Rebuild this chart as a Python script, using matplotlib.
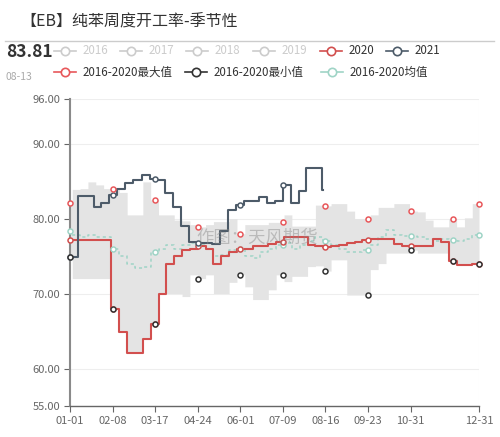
import numpy as np
import pandas as pd
import matplotlib
matplotlib.use("Agg")
import matplotlib.pyplot as plt

plt.rcParams['font.family'] = ['Noto Sans CJK SC', 'DejaVu Sans']

# ---------------- data ----------------
title = '【EB】纯苯周度开工率-季节性'
last_value = '83.81'
last_date = '08-13'

dates_2020 = [d.strftime('%m-%d') for d in pd.date_range('2020-01-03', periods=52, freq='7D')]
dates_2021 = [d.strftime('%m-%d') for d in pd.date_range('2021-01-01', '2021-08-13', freq='7D')]
dates_stat = ['01-01'] + dates_2020

vals_2020 = [77.1, 77.1, 77.1, 77.1, 77.1, 68.0, 64.9, 62.1, 62.1, 63.9,
             66.0, 70.0, 74.0, 75.0, 75.8, 76.0, 76.3, 75.9, 74.0, 75.0,
             75.5, 75.9, 76.0, 76.3, 76.3, 76.6, 76.9, 77.5, 77.5, 77.5,
             76.5, 76.4, 76.2, 76.3, 76.5, 76.7, 76.9, 77.2, 77.3, 77.3,
             77.3, 76.6, 76.4, 76.4, 76.4, 76.4, 77.3, 76.9, 74.4, 73.8,
             73.8, 74.0]

vals_2021 = [74.85, 83.0, 83.0, 81.5, 82.1, 83.2, 84.0, 84.7, 85.2, 85.8,
             85.3, 85.1, 83.4, 81.6, 79.0, 76.9, 76.7, 76.7, 76.6, 78.3,
             81.2, 81.8, 82.3, 82.3, 82.9, 82.05, 82.3, 84.5, 82.1, 83.7,
             86.8, 86.8, 83.81]

vals_max = [82.05,
            83.9, 84.0, 84.9, 84.5, 84.0, 84.0, 83.5, 80.5, 80.5, 84.9,
            82.5, 80.5, 80.5, 79.8, 79.7, 79.2, 78.9, 79.2, 79.6, 79.6,
            80.0, 78.0, 79.2, 79.2, 79.2, 79.5, 79.5, 80.5, 79.0, 79.0,
            79.0, 81.8, 81.7, 82.0, 82.0, 81.0, 80.0, 80.0, 80.5, 81.5,
            81.5, 82.0, 82.0, 81.0, 80.9, 79.8, 78.9, 78.9, 80.0, 78.9,
            80.1, 82.0]

vals_min = [74.85,
            72.0, 72.0, 72.0, 72.0, 72.0, 68.0, 64.9, 62.1, 62.1, 63.9,
            66.0, 70.0, 70.0, 70.0, 69.6, 72.5, 72.0, 72.5, 70.0, 70.0,
            71.5, 72.5, 70.9, 69.2, 69.2, 70.5, 72.5, 71.6, 72.3, 72.3,
            73.6, 73.7, 73.0, 74.5, 74.5, 69.8, 69.8, 69.8, 73.2, 74.0,
            75.4, 75.4, 75.4, 75.8, 75.4, 75.4, 75.4, 75.4, 74.3, 73.8,
            73.8, 73.9]

vals_mean = [78.3,
             77.8, 77.5, 77.8, 77.5, 77.6, 76.0, 75.0, 74.0, 73.4, 73.6,
             75.5, 76.0, 76.5, 76.0, 76.5, 76.8, 76.5, 76.0, 75.0, 75.2,
             75.8, 76.0, 75.0, 74.8, 75.5, 76.0, 76.5, 76.8, 76.0, 76.5,
             77.0, 77.5, 77.0, 76.5, 76.0, 75.5, 75.5, 75.8, 76.5, 77.5,
             78.5, 77.8, 77.7, 77.7, 77.5, 77.3, 77.0, 77.3, 77.2, 77.0,
             77.3, 77.8]

xtick_labels = ['01-01', '02-08', '03-17', '04-24', '06-01', '07-09',
                '08-16', '09-23', '10-31', '12-31']
yticks = [55, 60, 70, 80, 90, 96]

legend_row1 = ['2016', '2017', '2018', '2019', '2020', '2021']
legend_row2 = ['2016-2020最大值', '2016-2020最小值', '2016-2020均值']

# ---------------- helpers ----------------
def day_index(mmdd):
    m, d = mmdd.split('-')
    return pd.Timestamp(2020, int(m), int(d)).dayofyear - 1

days = np.arange(366)

def daily(dates, vals, stop_at_last=False):
    idx = np.array([day_index(s) for s in dates])
    v = np.array(vals, dtype=float)
    pos = np.searchsorted(idx, days, side='right') - 1
    pos = np.clip(pos, 0, None)
    out = v[pos].astype(float)
    if stop_at_last:
        out[days > idx[-1]] = np.nan
    return out

d2020 = daily(dates_2020, vals_2020)
d2021 = daily(dates_2021, vals_2021, stop_at_last=True)
dmax = daily(dates_stat, vals_max)
dmin = daily(dates_stat, vals_min)
dmean = daily(dates_stat, vals_mean)

marker_idx = list(range(0, 366, 38)) + [365]

# ---------------- colours ----------------
C2020 = '#d24f4e'
C2021 = '#4d5b69'
CMAX = '#e8585b'
CMIN = '#333333'
CMEAN = '#9fd4c6'
CBAND = '#e4e4e4'
CGRAY = '#cccccc'

# ---------------- figure ----------------
W, H = 500, 437
fig = plt.figure(figsize=(W / 100, H / 100), dpi=100)
fig.patch.set_facecolor('white')

ax = fig.add_axes([70 / W, (H - 406) / H, 409 / W, (406 - 98.7) / H])
ax.set_xlim(0, 365)
ax.set_ylim(55, 96)

ax.fill_between(days, dmin, dmax, step='post', color=CBAND, lw=0, zorder=1)
ax.plot(days, dmean, color=CMEAN, lw=1.1, ls=(0, (2, 2)), drawstyle='steps-post', zorder=2)
ax.plot(days, d2020, color=C2020, lw=1.5, drawstyle='steps-post', zorder=3)
ax.plot(days, d2021, color=C2021, lw=1.5, drawstyle='steps-post', zorder=4)

def markers(arr, color, z):
    mi = [i for i in marker_idx if not np.isnan(arr[i])]
    ax.plot(mi, arr[mi], 'o', ms=3.6, mfc='white', mec=color, mew=1.1,
            ls='none', zorder=z, clip_on=False)

markers(dmean, CMEAN, 5)
markers(d2020, C2020, 6)
markers(d2021, C2021, 7)
markers(dmax, CMAX, 8)
markers(dmin, CMIN, 8)

# axes styling
for s in ['top', 'right']:
    ax.spines[s].set_visible(False)
ax.spines['left'].set_color('#8a8a8a')
ax.spines['left'].set_linewidth(1.5)
ax.spines['bottom'].set_color('#666666')
ax.spines['bottom'].set_linewidth(1.0)
ax.axvline(365, color='#eeeeee', lw=0.8, zorder=0)

ax.set_yticks(yticks)
ax.set_yticklabels(['%.2f' % v for v in yticks])
xt = [day_index(s) for s in xtick_labels]
ax.set_xticks(xt)
ax.set_xticklabels(xtick_labels)
ax.tick_params(axis='both', colors='#666666', labelsize=8, length=4, width=0.8,
               labelcolor='#666666')
ax.tick_params(axis='y', pad=3)
ax.tick_params(axis='x', pad=3)
ax.grid(axis='y', color='#eeeeee', lw=0.8, zorder=0)
ax.set_axisbelow(True)

# ---------------- overlay (title, legend, watermark) ----------------
ov = fig.add_axes([0, 0, 1, 1], zorder=10)
ov.set_xlim(0, W)
ov.set_ylim(H, 0)
ov.axis('off')
ov.patch.set_alpha(0)

ov.text(20, 22, title, fontsize=11.5, color='#333333', va='center', ha='left',
        fontweight='medium')
ov.plot([5, 494], [40.5, 40.5], color='#cccccc', lw=1)
ov.text(6, 52, last_value, fontsize=12.5, fontweight='bold', color='#333333',
        va='center', ha='left')
ov.text(6, 77, last_date, fontsize=7.5, color='#aaaaaa', va='center', ha='left')

def leg_item(x, y, label, color, textcolor):
    ov.plot([x, x + 22], [y, y], color=color, lw=1.2)
    ov.plot([x + 11], [y], 'o', ms=6, mfc='white', mec=color, mew=1.2)
    ov.text(x + 29, y, label, fontsize=8.3, color=textcolor, va='center', ha='left')

row1_x = [54, 120, 186, 253, 320, 386]
row1_col = [CGRAY, CGRAY, CGRAY, CGRAY, C2020, C2021]
row1_txt = [CGRAY, CGRAY, CGRAY, CGRAY, '#333333', '#333333']
for x, lab, c, tc in zip(row1_x, legend_row1, row1_col, row1_txt):
    leg_item(x, 51, lab, c, tc)

row2_x = [54, 185, 321]
row2_col = [CMAX, CMIN, CMEAN]
for x, lab, c in zip(row2_x, legend_row2, row2_col):
    leg_item(x, 72, lab, c, '#333333')

ov.text(257, 238, '作图：天风期货', fontsize=12.5, color='#888888', alpha=0.45,
        va='center', ha='center')

fig.savefig('out.png', dpi=100, facecolor='white')
